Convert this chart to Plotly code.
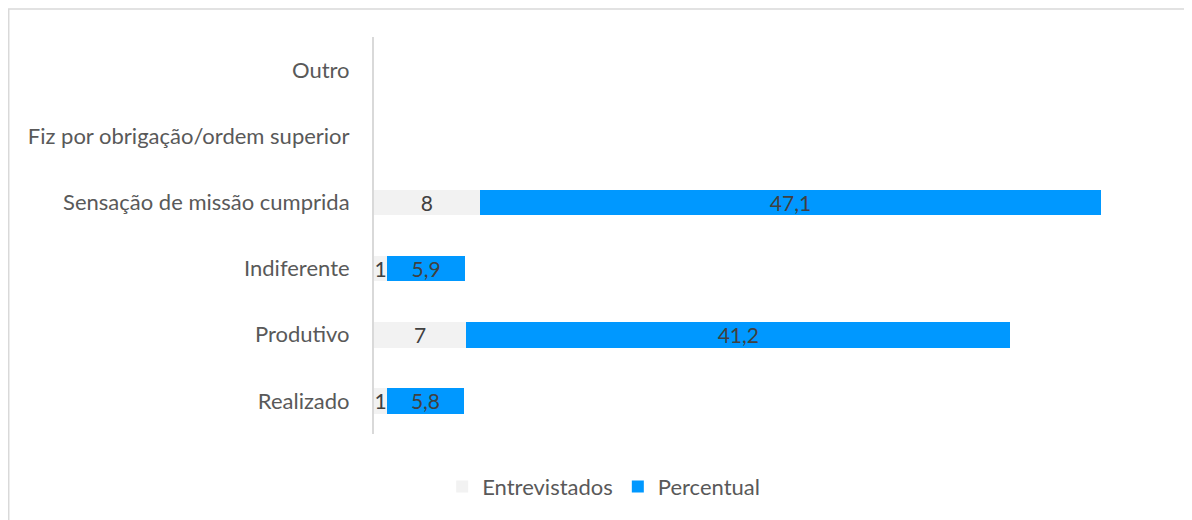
import plotly.graph_objects as go

categories = ["Realizado", "Produtivo", "Indiferente", "Sensação de missão cumprida",
              "Fiz por obrigação/ordem superior", "Outro"]
entrevistados = [1, 7, 1, 8, None, None]
percentual = [5.8, 41.2, 5.9, 47.1, None, None]

def fmt(v):
    return "" if v is None else (f"{v}".replace(".", ",") if isinstance(v, float) else str(v))

FONT = "Lato"

fig = go.Figure()
fig.add_trace(go.Bar(
    y=categories, x=entrevistados, orientation="h", name="Entrevistados",
    marker=dict(color="#f2f2f2", line=dict(width=0)),
    text=[fmt(v) for v in entrevistados], textposition="inside", textangle=0,
    insidetextanchor="middle", constraintext="none",
    textfont=dict(color="#404040", size=21, family=FONT),
))
fig.add_trace(go.Bar(
    y=categories, x=percentual, orientation="h", name="Percentual",
    marker=dict(color="#0098ff", line=dict(width=0)),
    text=[fmt(v) for v in percentual], textposition="inside", textangle=0,
    insidetextanchor="middle", constraintext="none",
    textfont=dict(color="#404040", size=21, family=FONT),
))

fig.update_layout(
    width=1184, height=512,
    barmode="stack", bargap=0.61,
    margin=dict(l=366, r=26, t=29, b=83),
    paper_bgcolor="white", plot_bgcolor="white",
    font=dict(family=FONT, color="#595959", size=22),
    showlegend=True,
    legend=dict(orientation="h", x=0.29, xanchor="center", y=-0.1325, yanchor="middle",
                font=dict(size=22, color="#595959", family=FONT), traceorder="normal",
                itemwidth=30),
    xaxis=dict(range=[0, 60], visible=False, showgrid=False, zeroline=False),
    yaxis=dict(categoryorder="array", categoryarray=categories,
               showline=True, linecolor="#d9d9d9", linewidth=2,
               ticks="", ticklabelstandoff=18,
               tickfont=dict(size=22, color="#595959", family=FONT),
               showgrid=False),
)
fig.add_shape(type="rect", xref="paper", yref="paper",
              x0=-0.4612, x1=1.04, y0=-0.22, y1=1.0706,
              line=dict(color="#d9d9d9", width=1.5), fillcolor="rgba(0,0,0,0)", layer="below")

fig.write_html("out.html")
